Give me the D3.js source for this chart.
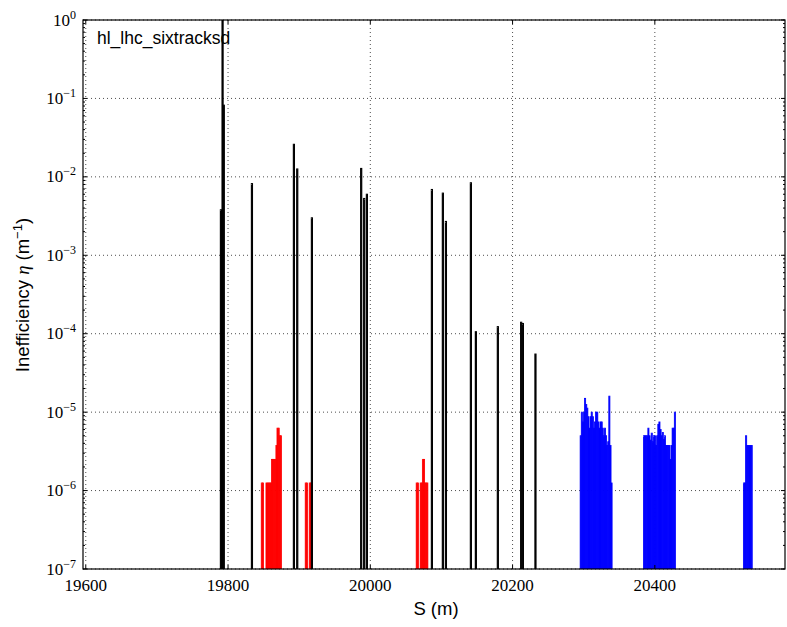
<!DOCTYPE html>
<html><head><meta charset="utf-8">
<script src="https://cdn.jsdelivr.net/npm/d3@7"></script>
<style>body{margin:0;background:#fff}</style>
</head><body>
<svg id="chart" width="787" height="627"></svg>
<script>
// ---------------- data ----------------
const titleText = "hl_lhc_sixtracksd";
const xTickValues = [19600, 19800, 20000, 20200, 20400];
const yTickExponents = [0, -1, -2, -3, -4, -5, -6, -7];
const binWidth = 1.55; // m

// collimator losses (black), bin centres S (m) and inefficiency
const collS = [19790.0, 19792.3, 19794.0, 19833.6, 19892.6, 19897.3, 19917.9, 19987.2, 19991.4, 19995.2,
               20086.6, 20102.0, 20106.3, 20141.4, 20148.4, 20179.3, 20212.1, 20214.5, 20232.2];
const collV = [0.0038, 1.0, 0.082, 0.0082, 0.026, 0.0126, 0.0030, 0.0128, 0.0053, 0.0060,
               0.0069, 0.0062, 0.0027, 0.0084, 1.06e-4, 1.23e-4, 1.4e-4, 1.35e-4, 5.5e-5];

// warm losses (red), bin left edges
const warmS = [19846.7, 19848.3,
               19853.3, 19854.9, 19856.4, 19858.0, 19859.5, 19861.1, 19862.6, 19864.2, 19865.7,
               19867.3, 19868.8, 19870.4, 19871.9, 19873.5,
               19908.5, 19910.1, 19914.1, 19915.7,
               20064.5, 20066.1, 20070.1, 20071.7, 20073.2, 20074.8, 20076.3, 20077.9, 20079.4];
const warmV = [1.25e-6, 1.25e-6,
               1.25e-6, 1.25e-6, 1.25e-6, 1.25e-6, 1.25e-6, 2.5e-6, 2.5e-6, 2.5e-6, 2.5e-6,
               3.75e-6, 6.25e-6, 6.25e-6, 5.0e-6, 5.0e-6,
               1.25e-6, 1.25e-6, 1.25e-6, 1.25e-6,
               1.25e-6, 1.25e-6, 1.25e-6, 1.25e-6, 2.5e-6, 2.5e-6, 1.25e-6, 1.25e-6, 1.25e-6];

// cold losses (blue), bin left edges
const coldS1 = [20295.0, 20296.6, 20298.1, 20299.7, 20301.2, 20302.8, 20304.3, 20305.9, 20307.4, 20309.0,
                20310.5, 20312.1, 20313.6, 20315.2, 20316.7, 20318.3, 20319.8, 20321.4, 20322.9, 20324.5,
                20326.0, 20327.6, 20329.1, 20330.7, 20332.2, 20333.8, 20335.3, 20336.9, 20338.4];
const coldV1 = [5.0e-6, 1.0e-5, 7.5e-6, 1.0e-5, 1.5e-5, 1.25e-5, 1.125e-5, 8.75e-6, 6.25e-6, 8.75e-6,
                1.0e-5, 8.75e-6, 6.25e-6, 7.5e-6, 1.0e-5, 1.0e-5, 7.5e-6, 6.25e-6, 7.5e-6, 7.5e-6,
                6.25e-6, 5.0e-6, 6.25e-6, 5.0e-6, 3.75e-6, 4.2e-6, 1.6e-5, 3.75e-6, 1.25e-6];
const coldS2 = [20384.0, 20385.6, 20387.1, 20388.7, 20390.2, 20391.8, 20393.3, 20394.9, 20396.4, 20398.0,
                20399.5, 20401.1, 20402.6, 20404.2, 20405.7, 20407.3, 20408.8, 20410.4, 20411.9, 20413.5,
                20415.0, 20416.6, 20418.1, 20419.7, 20421.2, 20422.8, 20424.3, 20425.9, 20427.4];
const coldV2 = [5.0e-6, 5.0e-6, 5.0e-6, 5.0e-6, 6.25e-6, 5.0e-6, 4.4e-6, 5.4e-6, 4.2e-6, 5.0e-6,
                5.0e-6, 3.75e-6, 5.0e-6, 7.0e-6, 7.5e-6, 6.0e-6, 5.0e-6, 5.5e-6, 4.5e-6, 5.0e-6,
                3.75e-6, 3.75e-6, 3.75e-6, 3.75e-6, 2.5e-6, 3.75e-6, 6.25e-6, 6.25e-6, 1.0e-5];
const coldS3 = [20524.5, 20526.1, 20527.6, 20529.2, 20530.7, 20532.3, 20533.8, 20535.4];
const coldV3 = [1.25e-6, 1.25e-6, 5.0e-6, 3.75e-6, 3.75e-6, 3.75e-6, 3.75e-6, 3.75e-6];

// ---------------- layout ----------------
const L = 83, R = 785, T = 20, B = 569;
const svg = d3.select("#chart");
const x = d3.scaleLinear().domain([19596.1, 20583.0]).range([L, R]);
const y = d3.scaleLog().domain([1e-7, 1]).range([B, T]);

svg.append("defs").append("clipPath").attr("id", "clip")
  .append("rect").attr("x", L).attr("y", T).attr("width", R - L).attr("height", B - T);

// grid
const grid = svg.append("g").attr("stroke", "#000").attr("stroke-width", 0.7)
  .attr("stroke-dasharray", "1,3").attr("fill", "none");
xTickValues.forEach(v => grid.append("line")
  .attr("x1", x(v)).attr("x2", x(v)).attr("y1", T).attr("y2", B));
yTickExponents.forEach(e => grid.append("line")
  .attr("x1", L).attr("x2", R).attr("y1", y(Math.pow(10, e))).attr("y2", y(Math.pow(10, e))));

// bars
const bars = svg.append("g").attr("clip-path", "url(#clip)");
function drawBars(S, V, color, centred, sw) {
  const d = S.map((s, i) => ({s: centred ? s - binWidth / 2 : s, v: V[i]}));
  bars.append("g").selectAll("rect").data(d).join("rect")
    .attr("x", p => x(p.s))
    .attr("width", p => x(p.s + binWidth) - x(p.s))
    .attr("y", p => y(p.v))
    .attr("height", p => y(1e-7) - y(p.v) + 2)
    .attr("fill", color).attr("stroke", color).attr("stroke-width", sw);
}
drawBars(warmS, warmV, "#ff0000", false, 0.8);
drawBars(coldS1, coldV1, "#0000ff", false, 0.8);
drawBars(coldS2, coldV2, "#0000ff", false, 0.8);
drawBars(coldS3, coldV3, "#0000ff", false, 0.8);
drawBars(collS, collV, "#000000", true, 1.1);

// frame
svg.append("rect").attr("x", L).attr("y", T).attr("width", R - L).attr("height", B - T)
  .attr("fill", "none").attr("stroke", "#000").attr("stroke-width", 1.2);

// ticks
const tk = svg.append("g").attr("stroke", "#000").attr("stroke-width", 1);
xTickValues.forEach(v => {
  tk.append("line").attr("x1", x(v)).attr("x2", x(v)).attr("y1", B).attr("y2", B - 4);
  tk.append("line").attr("x1", x(v)).attr("x2", x(v)).attr("y1", T).attr("y2", T + 4);
});
yTickExponents.forEach(e => {
  const yy = y(Math.pow(10, e));
  tk.append("line").attr("x1", L).attr("x2", L + 4).attr("y1", yy).attr("y2", yy);
  tk.append("line").attr("x1", R).attr("x2", R - 4).attr("y1", yy).attr("y2", yy);
  if (e > -7) {
    for (let m = 2; m <= 9; m++) {
      const ym = y(m * Math.pow(10, e - 1));
      tk.append("line").attr("x1", L).attr("x2", L + 2).attr("y1", ym).attr("y2", ym);
      tk.append("line").attr("x1", R).attr("x2", R - 2).attr("y1", ym).attr("y2", ym);
    }
  }
});

// tick labels
const serif = "'Liberation Serif', 'DejaVu Serif', serif";
xTickValues.forEach(v => svg.append("text").attr("x", x(v)).attr("y", B + 22)
  .attr("text-anchor", "middle").attr("font-family", serif).attr("font-size", 17).text(v));
yTickExponents.forEach(e => {
  const t = svg.append("text").attr("x", L - 7).attr("y", y(Math.pow(10, e)) + 5.5)
    .attr("text-anchor", "end").attr("font-family", serif).attr("font-size", 17);
  t.append("tspan").text("10");
  t.append("tspan").attr("dy", -7).attr("font-size", 12).text(e < 0 ? "\u2212" + (-e) : String(e));
});

// axis labels
const sans = "'Liberation Sans', Arial, sans-serif";
svg.append("text").attr("x", 436).attr("y", 615).attr("text-anchor", "middle")
  .attr("font-family", sans).attr("font-size", 18.5).text("S (m)");
const yl = svg.append("text").attr("transform", "translate(29,295) rotate(-90)")
  .attr("text-anchor", "middle").attr("font-family", sans).attr("font-size", 18.5);
yl.append("tspan").text("Inefficiency ");
yl.append("tspan").attr("font-family", serif).attr("font-style", "italic").text("\u03B7");
yl.append("tspan").text(" (m");
yl.append("tspan").attr("dy", -7).attr("font-size", 13).text("\u22121");
yl.append("tspan").attr("dy", 7).text(")");

// title inside plot
svg.append("text").attr("x", 97).attr("y", 43.5).attr("font-family", sans)
  .attr("font-size", 17.5).text(titleText);
</script>
</body></html>
